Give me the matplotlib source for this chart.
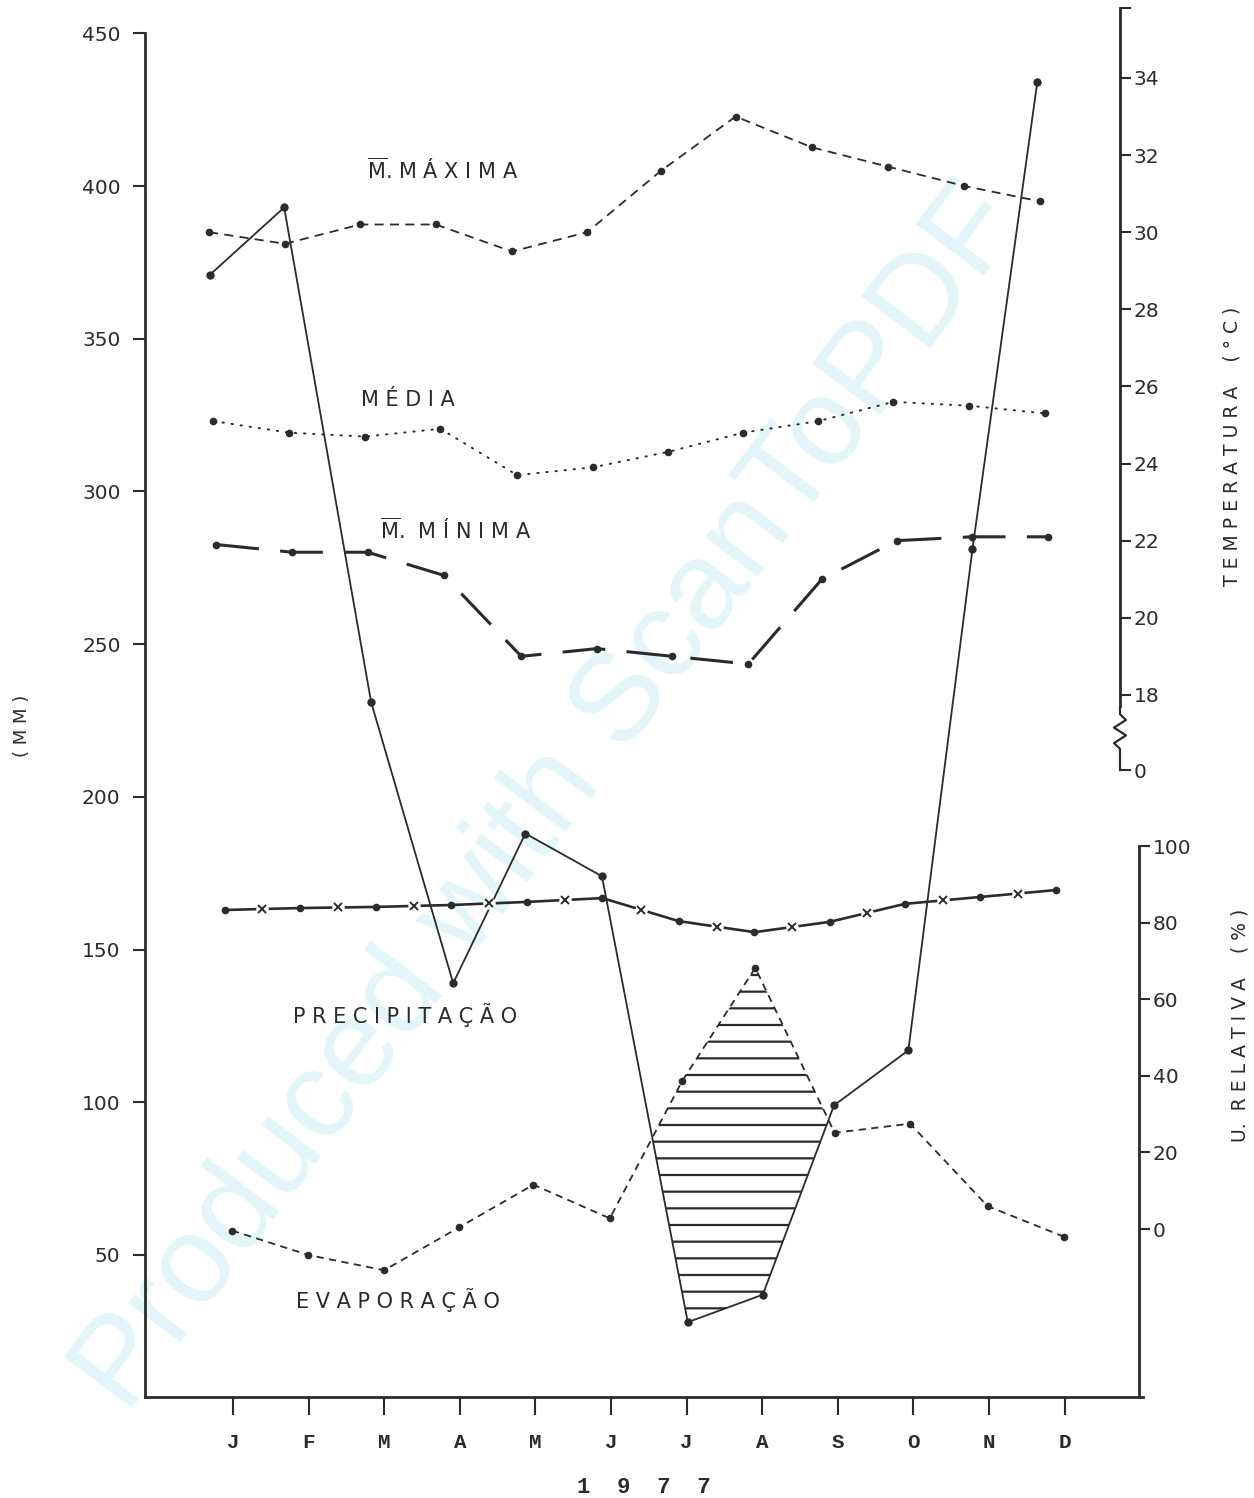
import numpy as np
import matplotlib
matplotlib.use("Agg")
import matplotlib.pyplot as plt
from matplotlib.transforms import Affine2D, blended_transform_factory

# ---------------- data ----------------
months = ["J", "F", "M", "A", "M", "J", "J", "A", "S", "O", "N", "D"]
year_label = "1  9  7  7"
precipitacao = [371, 393, 231, 139, 188, 174, 28, 37, 99, 117, 281, 434]      # mm
evaporacao = [58, 50, 45, 59, 73, 62, 107, 144, 90, 93, 66, 56]               # mm
temp_maxima = [30.0, 29.7, 30.2, 30.2, 29.5, 30.0, 31.6, 33.0, 32.2, 31.7, 31.2, 30.8]
temp_media = [25.1, 24.8, 24.7, 24.9, 23.7, 23.9, 24.3, 24.8, 25.1, 25.6, 25.5, 25.3]
temp_minima = [21.9, 21.7, 21.7, 21.1, 19.0, 19.2, 19.0, 18.8, 21.0, 22.0, 22.1, 22.1]
umidade = [83.3, 83.8, 84.1, 84.6, 85.4, 86.4, 80.4, 77.5, 80.2, 84.9, 86.7, 88.5]
mm_ticks = [50, 100, 150, 200, 250, 300, 350, 400, 450]
temp_ticks = [18, 20, 22, 24, 26, 28, 30, 32, 34]
umid_ticks = [0, 20, 40, 60, 80, 100]

# ---------------- style ----------------
INK = "#2b2b2b"
plt.rcParams["font.family"] = ["DejaVu Sans"]
plt.rcParams["hatch.linewidth"] = 1.6
plt.rcParams["hatch.color"] = INK

W, H, DPI = 1254, 1498, 100
fig = plt.figure(figsize=(W / DPI, H / DPI), dpi=DPI)
fig.patch.set_facecolor("white")


def fpos(x, y):
    return x / W, 1 - y / H


# watermark of the scan
fig.text(*fpos(550, 800), "Produced with ScanToPDF", rotation=53, fontsize=90,
         family=["Liberation Sans"], color="#e3f5f8", ha="center", va="center", zorder=-5)

L, R, B, T = 145, 1143, 1397, 8
ax = fig.add_axes([L / W, 1 - B / H, (R - L) / W, (B - T) / H])
ax.patch.set_visible(False)
ax_t = ax.twinx()
ax_h = ax.twinx()
for a in (ax_t, ax_h):
    a.patch.set_visible(False)

ax.set_xlim(-1.164, 12.037)
ax.set_ylim(3.5, 458.3)
ax_t.set_ylim(-0.21, 35.815)
ax_h.set_ylim(-43.86, 318.8)

# slight skew of the scanned sheet (display-space shear)
sh = Affine2D().translate(0, -(H - 1270)).skew(np.arctan(-0.023), 0).translate(0, H - 1270)
tr_mm = ax.transData + sh
tr_t = ax_t.transData + sh
tr_h = ax_h.transData + sh

x = np.arange(len(months))
prec = np.array(precipitacao, float)
evap = np.array(evaporacao, float)
umid = np.array(umidade, float)

# temperatures
ax_t.plot(x, temp_maxima, ls=(0, (5, 3.5)), lw=1.3, color=INK, marker="o", ms=4.5,
          transform=tr_t, clip_on=False)
ax_t.plot(x, temp_media, ls=(0, (0.7, 4)), lw=1.4, color=INK, marker="o", ms=4.5,
          dash_capstyle="round", transform=tr_t, clip_on=False)
ax_t.plot(x, temp_minima, ls=(0, (14, 7)), lw=2.2, color=INK, marker="o", ms=4.5,
          transform=tr_t, clip_on=False)

# relative humidity
ax_h.plot(x, umid, "-", lw=1.9, color=INK, marker="o", ms=4.5, transform=tr_h, clip_on=False)
xm = (x[:-1] + x[1:]) / 2
um = (umid[:-1] + umid[1:]) / 2
ax_h.plot(xm, um, ls="none", marker="o", ms=9, mfc="white", mec="none", transform=tr_h, clip_on=False)
ax_h.plot(xm, um, ls="none", marker="x", ms=5.5, mew=1.4, color=INK, transform=tr_h, clip_on=False)

# precipitation / evaporation
ax.fill_between(x, prec, evap, where=evap > prec, interpolate=True, facecolor="none",
                edgecolor=INK, linewidth=0, hatch="-", transform=tr_mm)
ax.plot(x, prec, "-", lw=1.3, color=INK, marker="o", ms=5, transform=tr_mm, clip_on=False)
ax.plot(x, evap, ls=(0, (4, 3)), lw=1.3, color=INK, marker="o", ms=4.5, transform=tr_mm, clip_on=False)

# ---------------- axes ----------------
ax.spines["top"].set_visible(False)
ax.spines["right"].set_visible(False)
ax.spines["left"].set_bounds(3.5, 450)
for s in ("left", "bottom"):
    ax.spines[s].set_linewidth(2)
    ax.spines[s].set_color(INK)
ax.set_yticks(mm_ticks)
ax.set_yticklabels([str(v) for v in mm_ticks])
ax.tick_params(axis="y", direction="out", length=8.6, width=1.5, pad=9, labelsize=14.5, colors=INK)
ax.set_xticks(x)
ax.set_xticklabels(months, family=["Liberation Mono"], fontweight="bold")
ax.tick_params(axis="x", direction="out", length=13, width=1.5, pad=13, labelsize=15, colors=INK)
ax.set_xlabel(year_label, fontsize=16, labelpad=18, color=INK, family=["Liberation Mono"],
              fontweight="bold")
ax.set_ylabel("( M M )", fontsize=13, color=INK)
ax.yaxis.set_label_coords((22 - L) / (R - L), (B - 726) / (B - T))
ax.yaxis.label.set_va("center")
ax.yaxis.label.set_ha("center")

# temperature axis (broken at the bottom)
t_spine_x = (1120 - L) / (R - L)
temp_zero_pos = 16.05
temp_top = 35.815
for s in ("left", "top", "bottom"):
    ax_t.spines[s].set_visible(False)
ax_t.spines["right"].set_position(("axes", t_spine_x))
ax_t.spines["right"].set_bounds(17.7, temp_top)
ax_t.spines["right"].set_linewidth(2)
ax_t.spines["right"].set_color(INK)
ax_t.set_yticks([temp_zero_pos] + temp_ticks + [temp_top])
ax_t.set_yticklabels(["0"] + [str(v) for v in temp_ticks] + [""])
ax_t.tick_params(axis="y", direction="out", length=8, width=1.5, pad=2, labelsize=14.5, colors=INK)
bt = blended_transform_factory(ax_t.transAxes, ax_t.transData)
dz = 6 / (R - L)
ax_t.plot([t_spine_x, t_spine_x, t_spine_x - dz, t_spine_x + dz, t_spine_x - dz, t_spine_x + dz,
           t_spine_x, t_spine_x],
          [temp_zero_pos, 16.6, 16.75, 16.95, 17.15, 17.35, 17.5, 17.7],
          color=INK, lw=1.6, transform=bt, clip_on=False)
ax_t.set_ylabel("T E M P E R A T U R A    ( ° C )", fontsize=13.5, color=INK)
ax_t.yaxis.set_label_coords((1232 - L) / (R - L), (B - 446) / (B - T))
ax_t.yaxis.label.set_va("center")
ax_t.yaxis.label.set_ha("center")

# humidity axis
h_spine_x = (1139 - L) / (R - L)
for s in ("left", "top", "bottom"):
    ax_h.spines[s].set_visible(False)
ax_h.spines["right"].set_position(("axes", h_spine_x))
ax_h.spines["right"].set_bounds(-43.86, 100)
ax_h.spines["right"].set_linewidth(2)
ax_h.spines["right"].set_color(INK)
ax_h.set_yticks(umid_ticks)
ax_h.set_yticklabels([str(v) for v in umid_ticks])
ax_h.tick_params(axis="y", direction="out", length=8, width=1.5, pad=2, labelsize=14.5, colors=INK)
ax_h.set_ylabel("U.  R E L A T I V A    ( % )", fontsize=13.5, color=INK)
ax_h.yaxis.set_label_coords((1240 - L) / (R - L), (B - 1025) / (B - T))
ax_h.yaxis.label.set_va("center")
ax_h.yaxis.label.set_ha("center")

# ---------------- series labels ----------------
lab = dict(fontsize=15, color=INK, ha="center", va="center")
fig.text(*fpos(443, 170), r"$\overline{\mathrm{M}}$. M Á X I M A", **lab)
fig.text(*fpos(408, 400), "M É D I A", **lab)
fig.text(*fpos(456, 530), r"$\overline{\mathrm{M}}$.  M Í N I M A", **lab)
fig.text(*fpos(405, 1015), "P R E C I P I T A Ç Ã O", **lab)
fig.text(*fpos(398, 1300), "E V A P O R A Ç Ã O", **lab)

fig.savefig("out.png", dpi=DPI, facecolor="white")
